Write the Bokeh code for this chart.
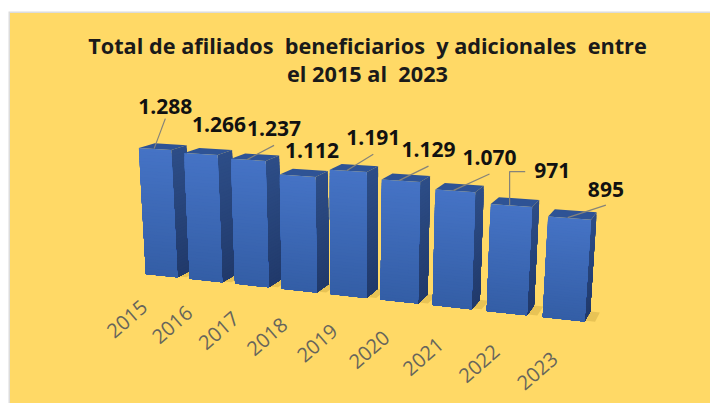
import numpy as np
from bokeh.plotting import figure
from bokeh.models import Range1d, ColumnDataSource
from bokeh.core.properties import value
from bokeh.embed import file_html
from bokeh.resources import INLINE

# data
years = ["2015","2016","2017","2018","2019","2020","2021","2022","2023"]
totals = [1288,1266,1237,1112,1191,1129,1070,971,895]
total_labels = ["1.288","1.266","1.237","1.112","1.191","1.129","1.070","971","895"]
title_lines = ["Total de afiliados\u00a0 beneficiarios\u00a0 y adicionales\u00a0 entre", "el 2015 al\u00a0 2023"]

# layout: perspective camera of the 3D column chart
CAMERA = np.array([[40.690058,-8.770936,19.227364,145.466017],
                   [0.189519,-97.812477,-1.063645,273.432873],
                   [-0.01644,-0.024931,0.024479,1.0]])
BASE = -50; BAR_W = 0.72
def project(x, h, z):
    q = CAMERA @ np.array([x, h, z, 1.0])
    return q[0]/q[2], q[1]/q[2]
def height(v): return (v-BASE)/1000
# data label offsets from the top anchor of each bar
lab_dx = [8,16,24,13,24,27,34,41,37]
lab_dy = [-41,-28,-30,-24,-32,-30,-32,-33,-27]
lab_tail = [12,0,17,0,17,17,17,0,16]
leader = ["s","n","s","n","s","s","s","e","s"]

BG="#FFD966"
def lerp(a,b,t):
    a=[int(a[k:k+2],16) for k in (1,3,5)]; b=[int(b[k:k+2],16) for k in (1,3,5)]
    return "#%02x%02x%02x"%tuple(round(a[k]+(b[k]-a[k])*t) for k in range(3))

xs=[];ys=[];cols=[];alph=[]
def add(pts,c,a=1.0):
    xs.append([q[0] for q in pts]); ys.append([q[1] for q in pts]); cols.append(c); alph.append(a)

n=len(years)
# floor shadows
for i in range(n):
    add([project(i+BAR_W*.5,0,.1),project(i+BAR_W+.17,0,.1),project(i+BAR_W+.17,0,1.0),project(i+BAR_W*.5,0,1.0)],"#D9B44A",.6)
STR=40
for i,v in enumerate(totals):
    h=height(v); a=i; b=i+BAR_W
    for s in range(STR):
        t0=1-s/STR
        c=lerp("#2D4D87","#213A6B",s/(STR-1))
        add([project(b,h*t0,0),project(b,h*t0,1),project(b,0,1),project(b,0,0)],c)
    add([project(a,h,0),project(b,h,0),project(b,h,1),project(a,h,1)],"#2E5395")
    for s in range(STR):
        t0=1-s/STR
        c=lerp("#4573C5","#345EA6",s/(STR-1))
        add([project(a,h*t0,0),project(b,h*t0,0),project(b,0,0),project(a,0,0)],c)

p=figure(width=710,height=403,x_range=Range1d(0,710),y_range=Range1d(403,0),
         toolbar_location=None,output_backend="svg",min_border=0,
         background_fill_color="white",border_fill_color="white",outline_line_color=None)
p.axis.visible=False; p.grid.visible=False
p.quad(left=[8],right=[710],top=[11],bottom=[403],fill_color="#dcdcdc",line_color=None)
p.quad(left=[9.5],right=[710],top=[12.5],bottom=[403],fill_color=BG,line_color=None)
p.patches("xs","ys",source=ColumnDataSource(dict(xs=xs,ys=ys,c=cols,a=alph)),fill_color="c",line_color=None,fill_alpha="a")

# leaders and labels
lx=[];ly=[];tx=[];ty=[]
for i,v in enumerate(totals):
    ax,ay=project(i+BAR_W*.45,height(v),0.25)
    sx,sy=project(i+BAR_W*.45,height(v),0.05)
    cx,cy=ax+lab_dx[i],ay+lab_dy[i]
    tx.append(cx);ty.append(cy)
    if leader[i]=="s":
        lx.append([sx,cx]);ly.append([sy,cy+lab_tail[i]])
    elif leader[i]=="e":
        lx.append([sx,sx,cx-27]);ly.append([sy,cy+1,cy+1])
p.multi_line(lx,ly,line_color="#85837A",line_width=1.2)
p.text(tx,ty,text=total_labels,text_font=value("Open Sans"),text_font_style="bold",text_font_size="21px",
       text_align="center",text_baseline="middle",text_color="#111111")

# year labels
gx=[];gy=[]
for i in range(n):
    a,b=project(1.2+0.905*i,0,-4.35)
    gx.append(a);gy.append(b)
p.text(gx,gy,text=years,angle=0.72,text_font=value("Open Sans"),text_font_size="20px",text_align="center",
       text_baseline="middle",text_color="#66655C")

p.text([367,367],[45,73],text=title_lines,text_font=value("Open Sans"),text_font_style="bold",text_font_size="21.7px",
       text_align="center",text_baseline="middle",text_color="#1A1A1A")

open("out.html","w").write(file_html(p,INLINE))
